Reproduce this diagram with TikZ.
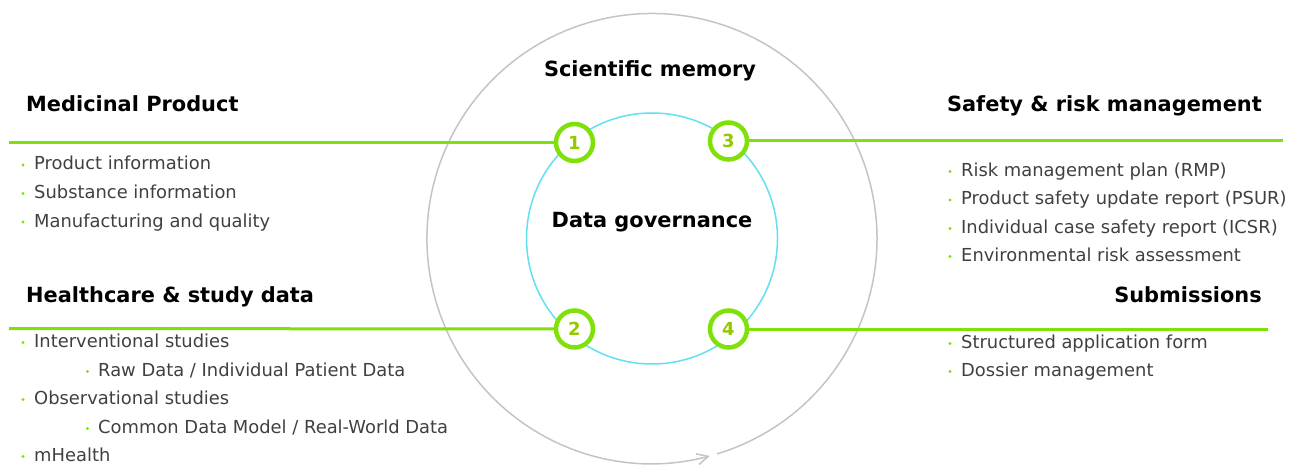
\documentclass[tikz,border=0pt]{standalone}
\usepackage{fontspec}
\setmainfont{DejaVu Sans}
\usetikzlibrary{arrows.meta}
\definecolor{lime}{HTML}{80E00A}
\definecolor{limetxt}{HTML}{95C800}
\definecolor{ringgray}{HTML}{C4C4C4}
\definecolor{cyanring}{HTML}{60E0F0}
\definecolor{bodytxt}{HTML}{404040}
\tikzset{
  heading/.style={inner sep=0pt, font=\fontsize{20.9}{24}\selectfont\bfseries, text=black},
  body/.style={inner sep=0pt, anchor=base west, font=\fontsize{17.9}{21}\selectfont, text=bodytxt},
  bul/.style={fill=lime, draw=none},
  numring/.style={circle, draw=lime, line width=4.5pt, fill=white, minimum size=37pt, inner sep=0pt,
     text=limetxt, font=\fontsize{18}{20}\selectfont\bfseries},
  greenline/.style={draw=lime, line width=3pt},
  outerring/.style={draw=ringgray, line width=1.5pt},
  innerring/.style={draw=cyanring, line width=1.5pt},
}
\begin{document}
\begin{tikzpicture}[x=1pt,y=-1pt]
\useasboundingbox (0,0) rectangle (1290,465);
% rings
\coordinate (ctr) at (652,238.5);
\draw[outerring, -{Straight Barb[length=11pt,width=11pt]}] (717,453.9) arc[start angle=73.2, end angle=-284.9, radius=225];
\draw[innerring] (ctr) circle[radius=125.5];
% centre labels
\node[heading, anchor=base] (sm) at (650,76.5) {Scientific memory};
\node[heading, anchor=base] (dg) at (652,227.5) {Data governance};
% numbered rings
\node[numring] (c1) at (574.5,142.5) {1};
\node[numring] (c3) at (728.5,141) {3};
\node[numring] (c2) at (574.5,329) {2};
\node[numring] (c4) at (728.5,329) {4};
% connectors
\coordinate (l1) at (9,142.5);
\coordinate (r1) at (1283,141);
\coordinate (l2) at (9,328.5);
\coordinate (r2) at (1268,329);
\draw[greenline] (l1) -- (c1);
\draw[greenline] (c3) -- (r1);
\draw[greenline] (l2) -- (c2);
\draw[greenline] (c4) -- (r2);
% headings
\node[heading, anchor=base west] (h1) at (26,112) {Medicinal Product};
\node[heading, anchor=base east] (h3) at (1262,112) {Safety \& risk management};
\node[heading, anchor=base west] (h2) at (26,302.5) {Healthcare \& study data};
\node[heading, anchor=base east] (h4) at (1262,302.5) {Submissions};
% left top items
\fill[bul] (23,165) circle[radius=1.6];
\node[body] (p1) at (34,170) {Product information};
\fill[bul] (23,193.5) circle[radius=1.6];
\node[body] (p2) at (34,198.5) {Substance information};
\fill[bul] (23,222) circle[radius=1.6];
\node[body] (p3) at (34,227) {Manufacturing and quality};
% left bottom items
\fill[bul] (23,342.5) circle[radius=1.6];
\node[body] (s1) at (34,347.5) {Interventional studies};
\fill[bul] (87.5,371.5) circle[radius=1.6];
\node[body] (s2) at (98,376.5) {Raw Data / Individual Patient Data};
\fill[bul] (23,399.5) circle[radius=1.6];
\node[body] (s3) at (34,404.5) {Observational studies};
\fill[bul] (87.5,428.5) circle[radius=1.6];
\node[body] (s4) at (98,433.5) {Common Data Model / Real-World Data};
\fill[bul] (23,456.5) circle[radius=1.6];
\node[body] (s5) at (34,461.5) {mHealth};
% right top items
\fill[bul] (950,171.5) circle[radius=1.6];
\node[body] (r1t) at (961,176.5) {Risk management plan (RMP)};
\fill[bul] (950,200) circle[radius=1.6];
\node[body] (r2t) at (961,205) {Product safety update report (PSUR)};
\fill[bul] (950,228.5) circle[radius=1.6];
\node[body] (r3t) at (961,233.5) {Individual case safety report (ICSR)};
\fill[bul] (950,256.5) circle[radius=1.6];
\node[body] (r4t) at (961,261.5) {Environmental risk assessment};
% right bottom items
\fill[bul] (950,343.5) circle[radius=1.6];
\node[body] (b1) at (961,348.5) {Structured application form};
\fill[bul] (950,371.5) circle[radius=1.6];
\node[body] (b2) at (961,376.5) {Dossier management};
\end{tikzpicture}
\end{document}
